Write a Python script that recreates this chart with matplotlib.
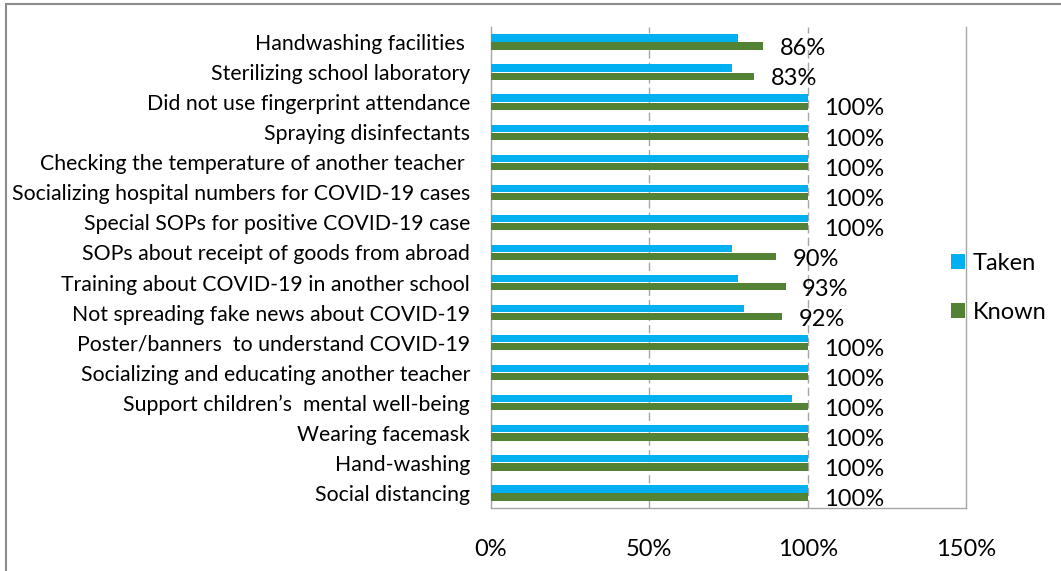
import matplotlib.pyplot as plt
import numpy as np
from matplotlib.patches import Patch, Rectangle

plt.rcParams['font.family'] = ['Lato', 'DejaVu Sans']

categories = [
    "Handwashing facilities ",
    "Sterilizing school laboratory",
    "Did not use fingerprint attendance",
    "Spraying disinfectants",
    "Checking the temperature of another teacher ",
    "Socializing hospital numbers for COVID-19 cases",
    "Special SOPs for positive COVID-19 case",
    "SOPs about receipt of goods from abroad",
    "Training about COVID-19 in another school",
    "Not spreading fake news about COVID-19",
    "Poster/banners  to understand COVID-19",
    "Socializing and educating another teacher",
    "Support children\u2019s  mental well-being",
    "Wearing facemask",
    "Hand-washing",
    "Social distancing",
]
taken = [0.78, 0.76, 1.00, 1.00, 1.00, 1.00, 1.00, 0.76, 0.78, 0.80, 1.00, 1.00, 0.95, 1.00, 1.00, 1.00]
known = [0.86, 0.83, 1.00, 1.00, 1.00, 1.00, 1.00, 0.90, 0.93, 0.92, 1.00, 1.00, 1.00, 1.00, 1.00, 1.00]
x_ticks = [0, 0.5, 1.0, 1.5]
x_tick_labels = ["0%", "50%", "100%", "150%"]

blue = "#00B0F0"
green = "#548235"
grey = "#A6A6A6"

fig = plt.figure(figsize=(10.61, 5.71), dpi=100)
# outer chart border (top and left visible)
fig.patches.append(Rectangle((6 / 1061, -0.1), 1.2, 1.1 - 4 / 571, transform=fig.transFigure,
                             fill=False, edgecolor="#8C8C8C", linewidth=1.5))
ax = fig.add_axes([491 / 1061, 1 - 508 / 571, (966 - 491) / 1061, (508 - 27) / 571])

y = np.arange(len(categories))[::-1]
h = 0.24
ax.barh(y + 0.135, taken, height=h, color=blue, zorder=3)
ax.barh(y - 0.135, known, height=h, color=green, zorder=3)

for yi, v in zip(y, known):
    ax.annotate(f"{v:.0%}", (v, yi - 0.135), xytext=(12, -2), textcoords="offset points",
                ha="left", va="center", fontsize=17, color="black", zorder=4)

ax.set_xlim(0, 1.5)
ax.set_ylim(-0.5, len(categories) - 0.5)
ax.set_yticks(y)
ax.set_yticklabels(categories, fontsize=15.3)
ax.set_xticks(x_ticks)
ax.set_xticklabels(x_tick_labels, fontsize=17)
ax.tick_params(axis="y", length=0, pad=15)
ax.tick_params(axis="x", length=0, pad=22)

for xv in x_ticks[1:3]:
    ax.axvline(xv, color=grey, linestyle=(0, (6, 3)), linewidth=1, zorder=1)

ax.spines["top"].set_visible(False)
for s in ["left", "right", "bottom"]:
    ax.spines[s].set_color(grey)
    ax.spines[s].set_linewidth(1)

handles = [Patch(facecolor=blue, label="Taken"), Patch(facecolor=green, label="Known")]
fig.legend(handles=handles, loc="center left", bbox_to_anchor=(930 / 1061, 1 - 288 / 571),
           frameon=False, fontsize=17, handlelength=0.6, handleheight=0.6, handletextpad=0.3,
           labelspacing=1.2)

fig.savefig("out.png", dpi=100)
